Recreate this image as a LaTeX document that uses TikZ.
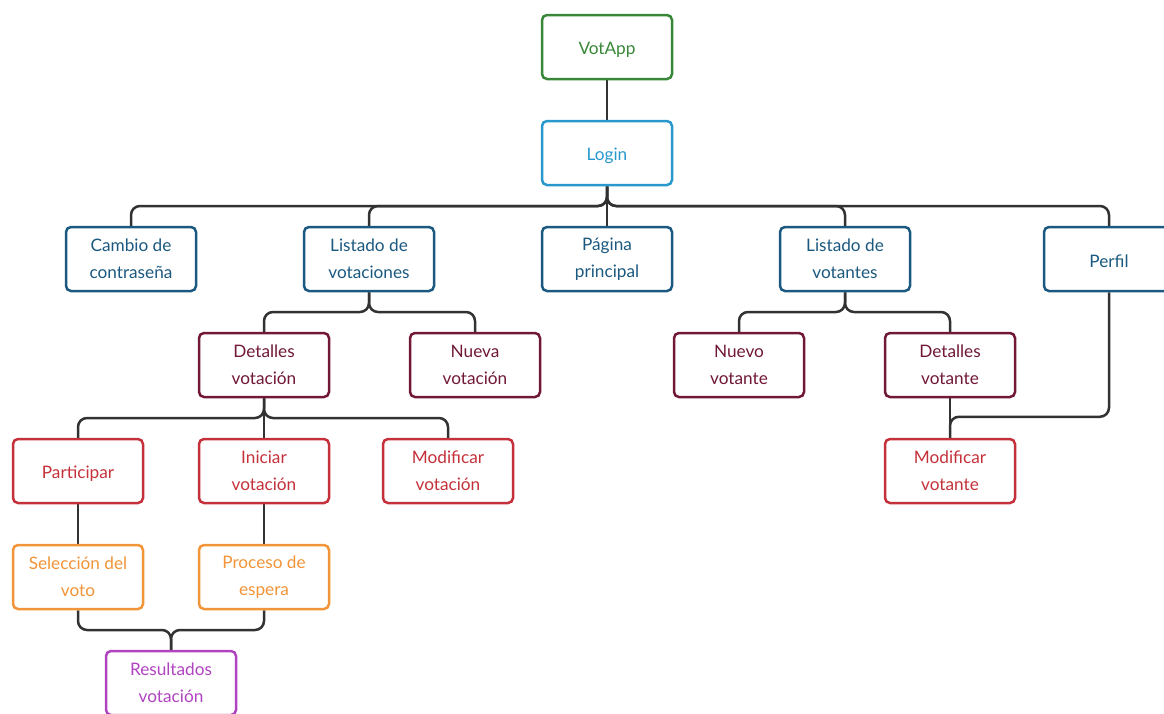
\documentclass[tikz,border=0pt]{standalone}
\usepackage{fontspec}
\setmainfont{Lato}
\usetikzlibrary{calc,backgrounds}
\definecolor{cRoot}{RGB}{56,135,56}
\definecolor{cLogin}{RGB}{41,152,205}
\definecolor{cMain}{RGB}{27,89,128}
\definecolor{cSub}{RGB}{112,24,54}
\definecolor{cAct}{RGB}{196,49,58}
\definecolor{cStep}{RGB}{242,148,56}
\definecolor{cEnd}{RGB}{176,68,192}
\definecolor{cLink}{RGB}{50,50,50}
% elbow connector: parent bottom -> halfway bus -> child top
\newcommand\tiebranch[2]{\draw[link] (#1.south) -- ($(#1.south)!.5!(#1.south|-#2.north)$) -| (#2.north);}
% single-line labels sit a little lower in their boxes
\newcommand\oneline[1]{\raisebox{0pt}[\dimexpr\height+5pt\relax][\depth]{#1}}
\begin{document}
\begin{tikzpicture}[x=1pt,y=-1pt,
  box/.style={draw, line width=2.5pt, rounded corners=5pt, fill=white,
    minimum width=130pt, minimum height=64pt, align=center, inner sep=0pt,
    font=\fontsize{17.2}{27}\selectfont},
  lvroot/.style={box, draw=cRoot, text=cRoot},
  lvlogin/.style={box, draw=cLogin, text=cLogin},
  lvmain/.style={box, draw=cMain, text=cMain},
  lvsub/.style={box, draw=cSub, text=cSub},
  lvact/.style={box, draw=cAct, text=cAct},
  lvstep/.style={box, draw=cStep, text=cStep},
  lvend/.style={box, draw=cEnd, text=cEnd},
  link/.style={draw=cLink, line width=2.5pt, rounded corners=9pt}]
\useasboundingbox (0,0) rectangle (1164,713);
\clip (0,0) rectangle (1164,713);

\node[lvroot]  (app)   at (607,47)  {\oneline{VotApp}};
\node[lvlogin] (login) at (607,153) {\oneline{Login}};

\node[lvmain] (pass)  at (131,259)  {Cambio de\\contraseña};
\node[lvmain] (lvot)  at (369,259)  {Listado de\\votaciones};
\node[lvmain] (home)  at (607,259)  {Página\\principal};
\node[lvmain] (lvnt)  at (845,259)  {Listado de\\votantes};
\node[lvmain] (prof)  at (1109,259) {\oneline{Perfil}};

\node[lvsub] (dvot) at (264,365) {Detalles\\votación};
\node[lvsub] (nvot) at (475,365) {Nueva\\votación};
\node[lvsub] (nvnt) at (739,365) {Nuevo\\votante};
\node[lvsub] (dvnt) at (950,365) {Detalles\\votante};

\node[lvact] (part) at (78,471)  {\oneline{Participar}};
\node[lvact] (init) at (264,471) {Iniciar\\votación};
\node[lvact] (mvot) at (448,471) {Modificar\\votación};
\node[lvact] (mvnt) at (950,471) {Modificar\\votante};

\node[lvstep] (sel)  at (78,577)  {Selección del\\voto};
\node[lvstep] (wait) at (264,577) {Proceso de\\espera};

\node[lvend] (res) at (171,683) {Resultados\\votación};

\begin{scope}[on background layer]
  \draw[link] (app.south) -- (login.north);
  \tiebranch{login}{pass}
  \tiebranch{login}{lvot}
  \draw[link] (login.south) -- (home.north);
  \tiebranch{login}{lvnt}
  \tiebranch{login}{prof}

  \tiebranch{lvot}{dvot}
  \tiebranch{lvot}{nvot}
  \tiebranch{lvnt}{nvnt}
  \tiebranch{lvnt}{dvnt}

  \tiebranch{dvot}{part}
  \draw[link] (dvot.south) -- (init.north);
  \tiebranch{dvot}{mvot}

  \draw[link] (dvnt.south) -- (mvnt.north);
  \coordinate (pbend) at ($(mvnt.north)+(0,-21)$);
  \draw[link] (prof.south) |- (pbend) -- (mvnt.north);

  \draw[link] (part.south) -- (sel.north);
  \draw[link] (init.south) -- (wait.north);
  \tiebranch{sel}{res}
  \tiebranch{wait}{res}
\end{scope}
\end{tikzpicture}
\end{document}
